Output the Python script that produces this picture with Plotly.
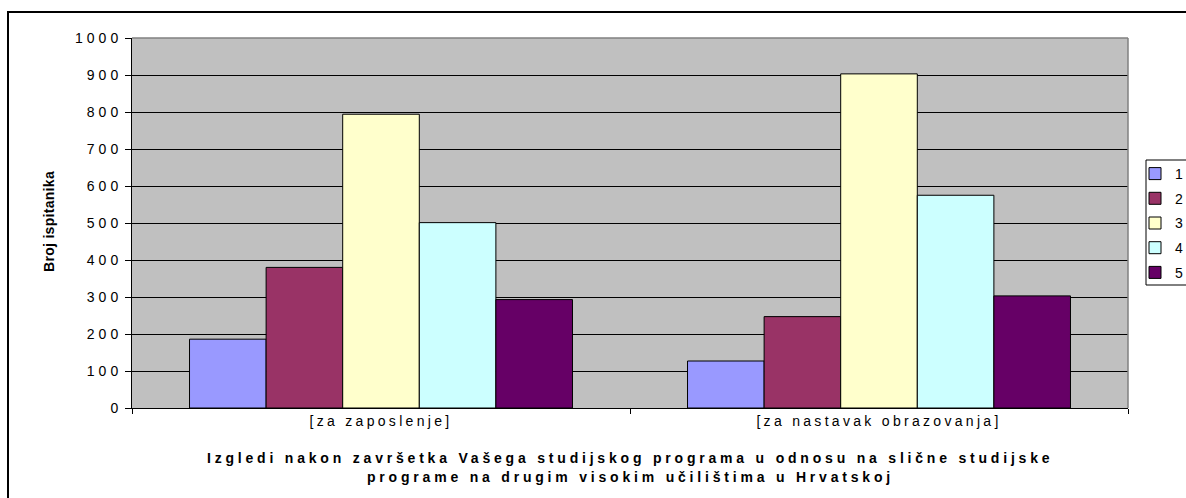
import plotly.graph_objects as go

categories = ["[za zaposlenje]", "[za nastavak obrazovanja]"]
series_names = ["1", "2", "3", "4", "5"]
series_values = [
    [186, 127],
    [380, 247],
    [794, 903],
    [501, 575],
    [293, 303],
]
series_colors = ["#9999FF", "#993366", "#FFFFCC", "#CCFFFF", "#660066"]
y_ticks = [0, 100, 200, 300, 400, 500, 600, 700, 800, 900, 1000]
y_title = "Broj ispitanika"
x_title_lines = [
    "Izgledi nakon završetka Vašega studijskog programa u odnosu na slične studijske",
    "programe na drugim visokim učilištima u Hrvatskoj",
]

FONT = "Liberation Sans, Arial, sans-serif"

def spaced(t, ls):
    return f'<span style="letter-spacing:{ls}px">{t}</span>'

W, H = 1186, 498
L, R, T, B = 132, 58, 38, 90
pw = W - L - R
ph = H - T - B

def px_x(x):
    return (x - L) / pw

def px_y(y):
    return (H - B - y) / ph

fig = go.Figure()
for i, name in enumerate(series_names):
    fig.add_trace(go.Bar(
        x=categories,
        y=series_values[i],
        name=name,
        legendgroup=name,
        marker=dict(color=series_colors[i], line=dict(color="black", width=1)),
    ))

fig.update_layout(
    width=W, height=H,
    margin=dict(l=L, r=R, t=T, b=B, pad=0, autoexpand=False),
    paper_bgcolor="white",
    plot_bgcolor="#C0C0C0",
    barmode="group",
    bargap=0.231,
    bargroupgap=0,
    font=dict(family=FONT, size=14, color="black"),
    showlegend=True,
    legend=dict(
        x=px_x(1135), xanchor="left",
        y=px_y(158), yanchor="top",
        bgcolor="rgba(0,0,0,0)",
        borderwidth=0,
        font=dict(family=FONT, size=14, color="black"),
        traceorder="grouped",
        tracegroupgap=3.5,
    ),
    xaxis=dict(
        type="category",
        tickvals=categories,
        ticktext=[spaced(c, 3.3) for c in categories],
        tickson="boundaries",
        ticks="outside", ticklen=5, tickcolor="black", tickwidth=1,
        showgrid=False,
        showline=True, linecolor="black", linewidth=1,
        zeroline=False,
        tickfont=dict(family=FONT, size=14, color="black"),
    ),
    yaxis=dict(
        range=[0, 1000],
        tickvals=y_ticks,
        ticktext=[spaced(str(v), 4) for v in y_ticks],
        ticks="outside", ticklen=6, tickcolor="black", tickwidth=1,
        showgrid=True, gridcolor="black", gridwidth=1,
        showline=True, linecolor="black", linewidth=1,
        zeroline=False,
        tickfont=dict(family=FONT, size=14, color="black"),
    ),
    shapes=[
        dict(type="line", xref="paper", yref="paper", x0=0, x1=1, y0=1, y1=1,
             line=dict(color="#808080", width=1.5), layer="above"),
        dict(type="line", xref="paper", yref="paper", x0=1, x1=1, y0=0, y1=1,
             line=dict(color="#808080", width=1.5), layer="above"),
        dict(type="rect", xref="paper", yref="paper",
             x0=px_x(8), x1=px_x(1200), y0=px_y(520), y1=px_y(12),
             line=dict(color="black", width=2), fillcolor="rgba(0,0,0,0)", layer="below"),
        dict(type="rect", xref="paper", yref="paper",
             x0=px_x(1146), x1=px_x(1200), y0=px_y(285), y1=px_y(160),
             line=dict(color="black", width=1), fillcolor="white", layer="below"),
    ],
    annotations=[
        dict(text=spaced(y_title, 0.3), xref="paper", yref="paper",
             x=px_x(49), y=px_y(222), xanchor="center", yanchor="middle",
             textangle=-90, showarrow=False,
             font=dict(family=FONT, size=14, color="black", weight="bold")),
        dict(text=spaced(x_title_lines[0], 3.8), xref="paper", yref="paper",
             x=0.5, y=px_y(458), xanchor="center", yanchor="middle",
             showarrow=False,
             font=dict(family=FONT, size=14, color="black", weight="bold")),
        dict(text=spaced(x_title_lines[1], 3.8), xref="paper", yref="paper",
             x=0.5, y=px_y(477), xanchor="center", yanchor="middle",
             showarrow=False,
             font=dict(family=FONT, size=14, color="black", weight="bold")),
    ],
)

fig.write_html(
    "out.html",
    config={"displayModeBar": False},
    post_script="document.body.style.margin='0';document.body.style.overflow='hidden';",
)
